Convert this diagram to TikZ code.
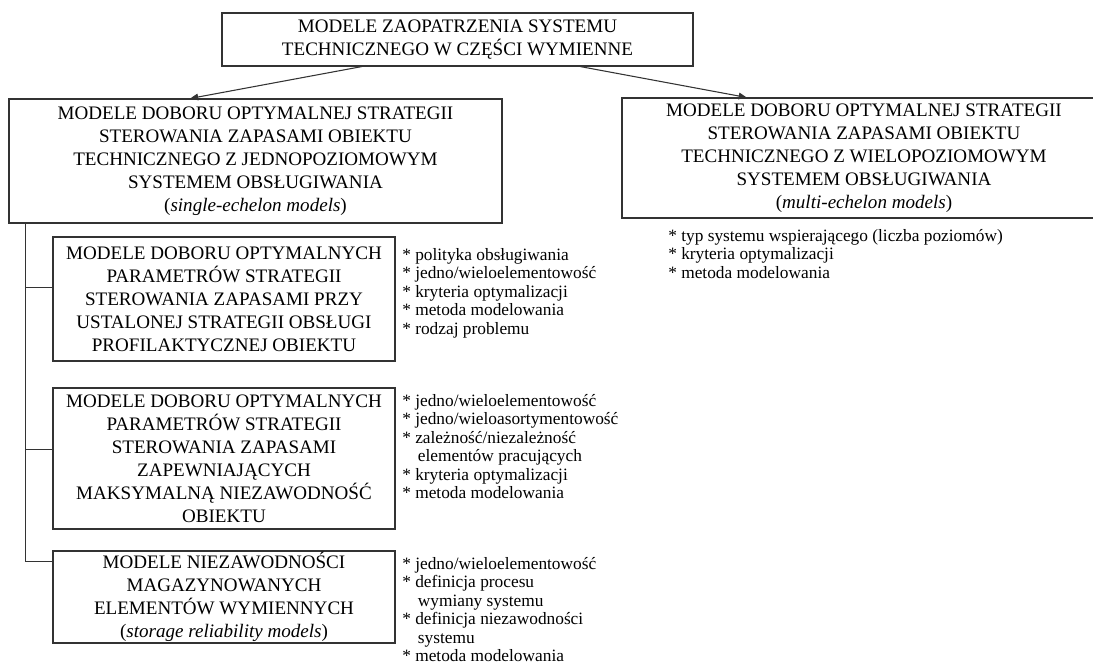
\documentclass[tikz,border=0pt]{standalone}
\usepackage{fontspec}
\setmainfont{Liberation Serif}
\usetikzlibrary{arrows.meta}

\begin{document}
\begin{tikzpicture}[x=0.75pt,y=-0.75pt,
  box/.style n args={2}{draw=black!80, line width=0.8pt, inner sep=0pt,
    minimum width=#1*0.75pt, minimum height=#2*0.75pt, align=center,
    font=\fontsize{14.3}{17.25}\selectfont},
  notes/.style={inner sep=0pt, anchor=north west, align=left,
    font=\fontsize{13}{13.9}\selectfont},
  link/.style={draw=black!80, line width=0.8pt},
  arr/.style={link, -{Triangle[length=6pt,width=5pt]}}]
\useasboundingbox (0,0) rectangle (1093,664);

% boxes
\node[box={471}{53}] (top) at (457.5,39.5)
  {MODELE ZAOPATRZENIA SYSTEMU\\TECHNICZNEGO W CZĘŚCI WYMIENNE};
\node[box={493}{124}] (single) at (255.5,161)
  {MODELE DOBORU OPTYMALNEJ STRATEGII\\STEROWANIA ZAPASAMI OBIEKTU\\TECHNICZNEGO Z JEDNOPOZIOMOWYM\\SYSTEMEM OBSŁUGIWANIA\\(\textit{single-echelon models})};
\node[box={484}{120}] (multi) at (864,158)
  {MODELE DOBORU OPTYMALNEJ STRATEGII\\STEROWANIA ZAPASAMI OBIEKTU\\TECHNICZNEGO Z WIELOPOZIOMOWYM\\SYSTEMEM OBSŁUGIWANIA\\(\textit{multi-echelon models})};
\node[box={342}{124}] (sub1) at (224,299)
  {MODELE DOBORU OPTYMALNYCH\\PARAMETRÓW STRATEGII\\STEROWANIA ZAPASAMI PRZY\\USTALONEJ STRATEGII OBSŁUGI\\PROFILAKTYCZNEJ OBIEKTU};
\node[box={342}{141}] (sub2) at (224,458.5)
  {MODELE DOBORU OPTYMALNYCH\\PARAMETRÓW STRATEGII\\STEROWANIA ZAPASAMI\\ZAPEWNIAJĄCYCH\\MAKSYMALNĄ NIEZAWODNOŚĆ\\OBIEKTU};
\node[box={342}{92}] (sub3) at (224,597)
  {MODELE NIEZAWODNOŚCI\\MAGAZYNOWANYCH\\ELEMENTÓW WYMIENNYCH\\(\textit{storage reliability models})};

% feature lists
\node[notes] (list1) at (402,248)
  {* polityka obsługiwania\\{*} jedno/wieloelementowość\\{*} kryteria optymalizacji\\{*} metoda modelowania\\{*} rodzaj problemu};
\node[notes] (list2) at (402,394)
  {* jedno/wieloelementowość\\{*} jedno/wieloasortymentowość\\{*} zależność/niezależność\\\hspace*{0.9em}elementów pracujących\\{*} kryteria optymalizacji\\{*} metoda modelowania};
\node[notes] (list3) at (402,557)
  {* jedno/wieloelementowość\\{*} definicja procesu\\\hspace*{0.9em}wymiany systemu\\{*} definicja niezawodności\\\hspace*{0.9em}systemu\\{*} metoda modelowania};
\node[notes] (listm) at (668,229)
  {* typ systemu wspierającego (liczba poziomów)\\{*} kryteria optymalizacji\\{*} metoda modelowania};

% arrows from the root
\draw[arr] ([xshift=-71.6pt]top.south) -- ([xshift=-49pt]single.north);
\draw[arr] ([xshift=92pt]top.south) -- ([xshift=-88pt]multi.north);

% tree of single-echelon sub-models
\coordinate (trunk) at ([xshift=12.75pt]single.south west);
\coordinate (b1) at ([yshift=-38.25pt]sub1.north west);
\coordinate (b2) at ([yshift=-46.5pt]sub2.north west);
\coordinate (b3) at ([yshift=-8.25pt]sub3.north west);
\draw[link] (trunk) |- (b3);
\draw[link] (trunk |- b1) -- (b1);
\draw[link] (trunk |- b2) -- (b2);
\end{tikzpicture}
\end{document}
